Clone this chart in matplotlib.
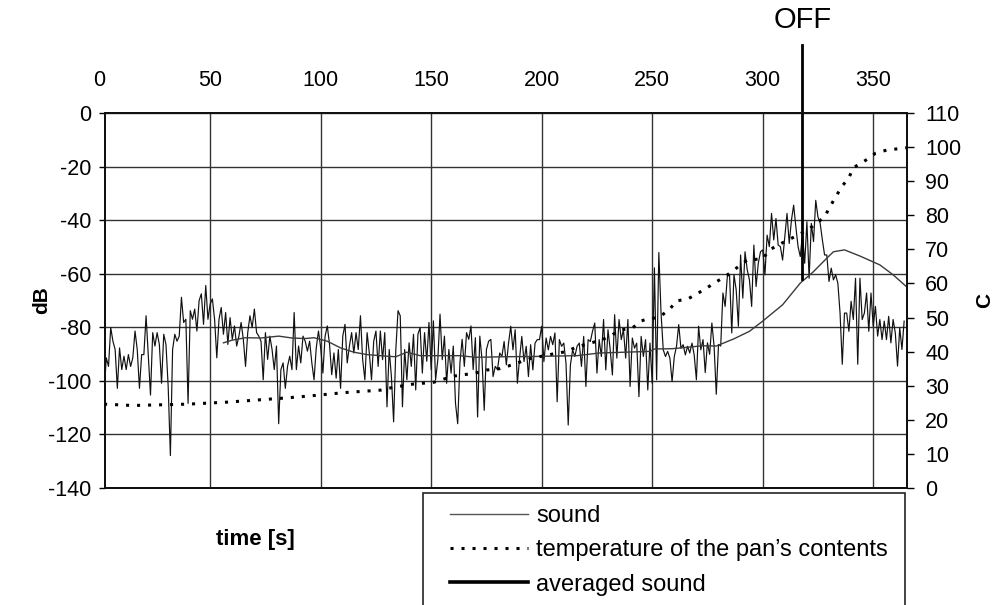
import numpy as np
import matplotlib
matplotlib.use("Agg")
import matplotlib.pyplot as plt
from matplotlib.lines import Line2D
from matplotlib.patches import Rectangle

plt.rcParams['font.family'] = ['Liberation Sans', 'DejaVu Sans']
plt.rcParams['axes.unicode_minus'] = False

# sound level [dB], one sample per second starting at t = 2 s
sound_start = 2
sound_db = [
    -104.7, -91.4, -94.6, -80.1, -85.2, -88.3, -102.8, -87.7, -95.8, -90.8,
    -95.8, -90.2, -94.6, -91.4, -81.4, -88.3, -102.8, -90.2, -90.2, -75.7,
    -90.8, -105.3, -82, -87, -82, -86.4, -100.9, -82.6, -86.4, -102.1,
    -127.9, -88.3, -82.6, -85.2, -83.3, -68.8, -78.2, -77, -108.4, -73.8,
    -77, -73.2, -81.4, -70, -67.5, -78.9, -64.4, -77, -71.3, -69.4,
    -77, -91.4, -77, -72.6, -82.6, -74.5, -86.4, -76.4, -84.5, -79.5,
    -87, -83.3, -78.2, -84.5, -94.6, -82, -75.7, -80.1, -73.2, -82,
    -83.3, -85.2, -99.6, -82, -92, -83.3, -88.3, -95.8, -87, -116,
    -95.8, -93.3, -102.8, -94.6, -90.8, -95.8, -74.5, -95.8, -87, -93.3,
    -83.3,
    # 93 s ..
    -85.2, -88.9, -85.2, -93.3, -99.6, -87.7, -81.4, -87.7, -97.1, -83.3,
    -79.5, -86.4, -97.7, -89.6, -99, -88.3, -102.8, -83.3, -78.9, -93.3,
    -87, -82, -89.6, -82, -88.3, -75.7, -92.1, -99.6, -82, -89.6,
    -99.6, -85.2, -81.4, -94.6, -81.4, -92.1, -82, -109.7, -88.3, -98.4,
    -115.3, -88.3, -73.8, -75.7, -109.7, -88.3, -99.6, -85.8, -94.6, -82.6,
    -103.4, -82.6, -80.1, -97.1, -82, -92.7, -78.2, -95.8, -77.6, -99.6,
    -92.1, -75.1, -92.1, -83.3, -100.9, -88.3, -97.1, -87, -108.4, -116,
    -93.3, -84.5, -94.6, -82, -84.5, -79.5, -95.8, -83.9, -113.5, -83.3,
    -92.1, -111, -88.3, -85.2, -84.5, -98.4, -94.6, -95.8, -89.6,
    # 182 s ..
    -90.9, -85.3, -94, -85.9, -79.6, -88.4, -80.9, -100.9, -91.5, -83.4,
    -92.8, -87.1, -98.4, -86.5, -95.9, -85.9, -84.6, -84.6, -79.6, -92.8,
    -84, -88.4, -83.4, -86.5, -82.1, -107.8, -84.6, -87.1, -85.9, -93.4,
    -116.5, -94, -88.4, -90.9, -87.1, -85.9, -94.6, -83.4, -102.1, -84.6,
    -85.3, -81.5, -78.4, -97.1, -84.6, -90.9, -77.1, -95.9, -80.9, -88.4,
    -97.8, -75.3, -91.5, -77.1, -84.6, -80.9, -91.5, -77.1, -102.1, -84,
    -87.8, -85.9, -105.9, -83.4, -90.9, -84.6, -103.4, -85.9, -100.9, -57.8,
    -99.6, -52.1, -74.6, -88.4, -90.9, -89, -91.5, -100.3, -90.9, -87.1,
    -79, -87.8, -86.5, -90.3, -87.1, -89.6, -85.9, -90.3, -99.6, -79.6,
    -88.4, -84.6,
    # 274 s ..
    -96.9, -85.8, -90.1, -78.4, -87, -105, -86.4, -87, -67.2, -72.2,
    -61, -60.4, -82.1, -60.4, -66, -79.6, -53, -69.1, -51.8, -58.6,
    -62.3, -72.2, -49.3, -64.8, -56.1, -51.8, -51.1, -60.4, -45.6, -49.9,
    -37.5, -47.4, -39.4, -49.3, -49.9, -54.9, -46.2, -37.5, -48.7, -40,
    -34.4, -42.5, -49.9, -53.6, -45, -56.1, -40.6, -61.7, -41.2, -48,
    -32.6, -38.8, -41.2, -47.4, -53, -53, -62.9, -57.9, -62.3, -60.4,
    -63.5, -74.7, -93.8, -74.7, -74.7, -81.5, -70.3, -77.1, -61.7, -93.8,
    -61.7, -77.1, -74.7, -67.2, -81.5, -67.2, -79.6, -72.2, -83.3, -77.1,
    -84.6, -77.7, -84.6, -75.9, -85.8, -77.1, -82.1, -94.5, -80.2, -88.3,
    -77.7,
]

# averaged sound
avg_t = [56, 60, 66, 73, 81, 87, 93, 97, 103, 109, 115, 121, 130, 134, 139,
         145, 154, 163, 170, 183, 196, 216, 226, 249, 251, 259, 273, 279, 287,
         294, 300, 309, 317, 323, 329, 332, 337, 344, 353, 359, 365]
avg_db = [-85.8, -84.8, -83.9, -84, -83.3, -84, -84.2, -83.9, -85.2, -87.7,
          -89.3, -90.2, -90.8, -91, -89.3, -90.6, -90.6, -90.6, -91.2, -91,
          -90.9, -90.6, -89.6, -89, -88.1, -88, -86.9, -87, -84.3, -81.5,
          -77.7, -71.6, -63.5, -59.2, -54.2, -51.8, -51.1, -53.4, -56.7,
          -60.4, -64.8]

# temperature of the pan's contents [C]
temp_t = [2, 15, 40, 58, 84, 95, 111, 127, 131, 142, 151, 160, 170, 175, 181,
          185, 195, 205, 211, 216, 222, 227, 232, 235, 241, 245, 248, 253,
          258, 261, 266, 273, 284, 293, 300, 303, 307, 316, 321, 325, 328,
          330, 333, 336, 339, 341, 343, 348, 351, 356, 361, 365]
temp_c = [24.6, 24.2, 24.6, 25.2, 26.4, 27, 28, 28.7, 29.3, 30.5, 31, 32.8,
          33.7, 34.6, 35, 35.8, 38, 39.3, 40, 41.4, 42.5, 43.4, 44.9, 46.3,
          46.9, 49, 49.6, 50, 52.5, 54.9, 55.4, 58, 62.5, 66.9, 67.2, 69.8,
          71.3, 74.2, 76, 78, 79.5, 82, 85.4, 88.6, 91, 94, 94.7, 96.7, 98.2,
          99.1, 99.5, 99.8]

off_time = 318
off_level = -62

x_ticks = [50, 100, 150, 200, 250, 300, 350]
db_ticks = [0, -20, -40, -60, -80, -100, -120, -140]
c_ticks = list(range(0, 111, 10))

fs = 15.5
fig = plt.figure(figsize=(9.94, 6.05), dpi=100)
ax = fig.add_axes([0.1056, 0.1934, 0.8069, 0.6198])
ax2 = ax.twinx()

t = sound_start + np.arange(len(sound_db))
ax.plot(t, sound_db, color='#111111', lw=0.85, zorder=3)
ax.plot(avg_t, avg_db, color='#3a3a3a', lw=1.0, zorder=4)
ax2.plot(temp_t, temp_c, color='black', lw=2.2, linestyle=(0, (1, 2.6)),
         zorder=5)

ax.set_xlim(2.4, 365.3)
ax.set_ylim(-140, 0)
ax2.set_ylim(0, 110)

ax.xaxis.tick_top()
ax.set_xticks(x_ticks)
ax.tick_params(axis='x', length=0, pad=16, labelsize=fs)
ax.annotate('0', xy=(0, 1), xycoords=('data', 'axes fraction'),
            xytext=(0, 16), textcoords='offset points', ha='center',
            va='bottom', fontsize=fs, annotation_clip=False)
ax.set_yticks(db_ticks)
ax.tick_params(axis='y', length=4, width=1, pad=6, labelsize=fs)
ax2.set_yticks(c_ticks)
ax2.tick_params(axis='y', length=5, width=1, pad=8, labelsize=fs)

ax.grid(True, color='#333333', lw=1)
for sp in list(ax.spines.values()) + list(ax2.spines.values()):
    sp.set_linewidth(1.4)
    sp.set_color('#111111')

# switch-off marker
ax.plot([off_time, off_time], [off_level, 25.5], color='black', lw=2,
        clip_on=False, zorder=6)
ax.annotate('OFF', xy=(off_time, 1.248), xycoords=('data', 'axes fraction'),
            ha='center', va='center', fontsize=21, annotation_clip=False)

fig.text(42 / 994, 1 - 300 / 605, 'dB', rotation=90, ha='center',
         va='center', fontsize=15, weight='bold')
fig.text(985 / 994, 1 - 300 / 605, 'C', rotation=90, ha='center',
         va='center', fontsize=15, weight='bold')
fig.text(255 / 994, 1 - 540 / 605, 'time [s]', ha='center', va='center',
         fontsize=16, weight='bold')

# legend with its own box that runs off the bottom edge
fig.patches.append(Rectangle((423 / 994, -0.05), (905 - 423) / 994,
                             0.05 + 1 - 493 / 605, transform=fig.transFigure,
                             fill=False, edgecolor='#222222', lw=1.2))
handles = [Line2D([], [], color='#555555', lw=1.0),
           Line2D([], [], color='black', lw=2.2, linestyle=(0, (1, 2.6))),
           Line2D([], [], color='black', lw=2.6)]
labels = ['sound', 'temperature of the pan\u2019s contents', 'averaged sound']
fig.legend(handles, labels, loc='upper left',
           bbox_to_anchor=(450 / 994, 1 - 505 / 605),
           frameon=False, fontsize=17, borderpad=0, borderaxespad=0,
           handlelength=3.3, handletextpad=0.34, labelspacing=0.52)

fig.savefig('out.png', dpi=100)
